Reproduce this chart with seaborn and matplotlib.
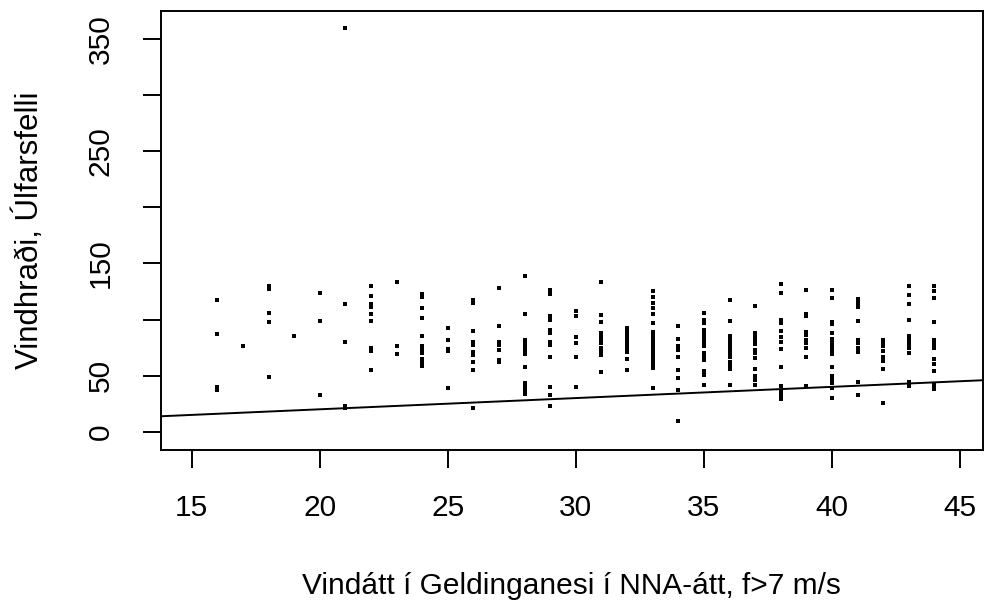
import pandas as pd
import seaborn as sns
import matplotlib.pyplot as plt

# wind direction (x) and the wind speeds observed at each direction
direction = [16, 17, 18, 19, 20, 21, 22, 23, 24, 25, 26, 27, 28, 29, 30,
             31, 32, 33, 34, 35, 36, 37, 38, 39, 40, 41, 42, 43, 44]
speeds = [
    [117, 87, 40, 37],
    [76],
    [130, 127, 106, 98, 49],
    [85],
    [124, 99, 33],
    [360, 114, 80, 23, 21],
    [130, 121, 114, 111, 105, 99, 75, 72, 55],
    [133, 76, 69],
    [123, 120, 110, 101, 85, 76, 73, 70, 65, 62, 59],
    [92, 82, 74, 72, 39],
    [117, 115, 90, 80, 77, 71, 68, 62, 55, 21],
    [128, 94, 80, 77, 73, 64, 62],
    [139, 105, 82, 79, 76, 73, 69, 58, 43, 40, 37, 34],
    [126, 123, 103, 100, 91, 88, 80, 77, 67, 40, 33, 23],
    [108, 103, 84, 79, 67, 40],
    [133, 104, 98, 88, 85, 82, 79, 75, 72, 68, 53],
    [92, 89, 86, 83, 80, 77, 74, 71, 65, 55],
    [125, 120, 115, 110, 105, 97, 89, 86, 83, 80, 77, 74, 71, 68, 65, 62, 59, 57, 39],
    [94, 83, 76, 73, 67, 55, 48, 37, 10],
    [106, 100, 97, 91, 88, 85, 82, 79, 76, 70, 67, 64, 54, 51, 42],
    [117, 99, 85, 82, 79, 76, 73, 70, 67, 62, 59, 56, 42],
    [112, 88, 85, 82, 78, 73, 70, 66, 56, 50, 46, 42],
    [132, 124, 100, 97, 90, 84, 80, 74, 58, 41, 35, 32, 29],
    [126, 105, 103, 89, 86, 82, 79, 75, 67, 41],
    [126, 119, 98, 96, 88, 83, 79, 76, 73, 69, 58, 50, 46, 43, 39, 30],
    [118, 115, 111, 99, 82, 79, 75, 71, 44, 33],
    [82, 79, 76, 72, 67, 63, 56, 26],
    [130, 122, 114, 100, 85, 82, 78, 75, 70, 44, 41],
    [130, 125, 119, 98, 82, 78, 75, 65, 60, 54, 42, 38],
]
x_ticks = [15, 20, 25, 30, 35, 40, 45]
y_ticks = [0, 50, 100, 150, 200, 250, 300, 350]
y_labels = ['0', '50', '', '150', '', '250', '', '350']

rows = [(d, s) for d, vals in zip(direction, speeds) for s in vals]
data = pd.DataFrame(rows, columns=['dir', 'speed'])

sns.set_style('white')
plt.rcParams['font.family'] = ['Liberation Sans', 'DejaVu Sans']
plt.rcParams['text.color'] = 'black'
plt.rcParams['axes.labelcolor'] = 'black'
plt.rcParams['xtick.color'] = 'black'
plt.rcParams['ytick.color'] = 'black'

fig = plt.figure(figsize=(9.85, 6.01), dpi=100)
ax = fig.add_axes([0.163, 0.2512, 0.835, 0.731])

sns.scatterplot(data=data, x='dir', y='speed', marker='s', s=11, color='black',
                linewidth=0, ax=ax)
# reference line y = x
ax.axline((0, 0), slope=1, color='black', linewidth=1.4)

ax.set_xlim(13.78, 45.9)
ax.set_ylim(-16.3, 375.2)
ax.set_xticks(x_ticks)
ax.set_yticks(y_ticks)
ax.set_yticklabels(y_labels, rotation=90, va='center')
ax.tick_params(axis='both', direction='out', length=13, width=1.4,
               labelsize=21.5, bottom=True, left=True)
ax.tick_params(axis='x', pad=18.5)
ax.tick_params(axis='y', pad=20)
for sp in ax.spines.values():
    sp.set_color('black')
    sp.set_linewidth(1.4)

ax.set_xlabel('Vindátt í Geldinganesi í NNA-átt, f>7 m/s', fontsize=21.5)
ax.xaxis.set_label_coords(0.5, -0.327)
ax.xaxis.label.set_va('baseline')
ax.set_ylabel('Vindhraði, Úlfarsfelli', fontsize=22.5)
ax.yaxis.set_label_coords(-0.1492, 0.5)
ax.yaxis.label.set_va('baseline')

fig.savefig('out.png', dpi=100)
